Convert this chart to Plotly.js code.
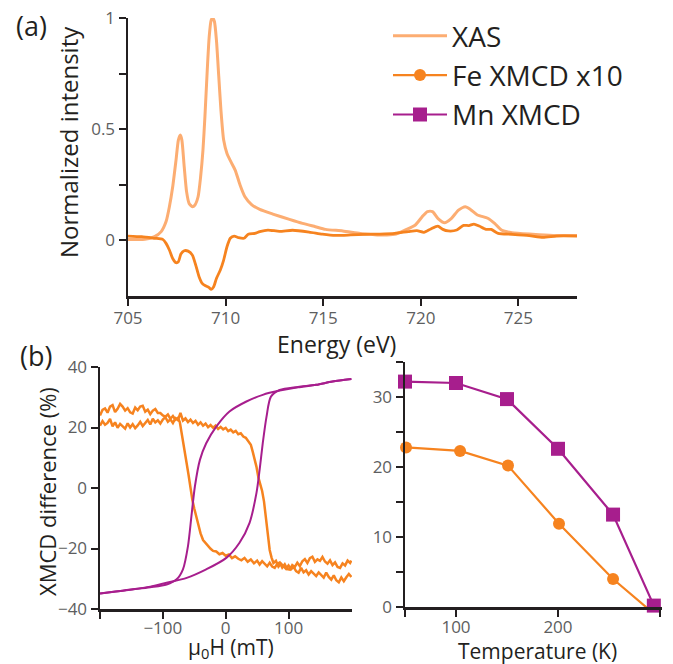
<!DOCTYPE html>
<html>
<head>
<meta charset="utf-8">
<script src="https://cdn.plot.ly/plotly-3.0.1.min.js"></script>
<style>
html,body{margin:0;padding:0;background:#fff;}
#chart{width:673px;height:664px;}
</style>
</head>
<body>
<div id="chart"></div>
<script>
// ---------- (a) spectra ----------
const energyXAS = [705.0,705.86,706.36,706.7,706.95,707.12,707.29,707.46,707.58,707.68,707.76,707.88,708.0,708.13,708.3,708.43,708.59,708.72,708.84,708.94,709.06,709.16,709.26,709.34,709.43,709.53,709.65,709.76,709.9,710.07,710.27,710.49,710.74,710.99,711.33,711.75,712.42,713.27,713.94,714.6,715.12,716.0,716.9,717.77,718.66,719.19,719.72,720.07,720.34,720.6,720.87,721.22,721.57,721.93,722.28,722.54,722.9,723.43,723.78,724.13,724.66,725.72,726.78,728.0];
const xasValues = [0.003,0.003,0.015,0.038,0.083,0.15,0.24,0.36,0.45,0.473,0.45,0.33,0.218,0.165,0.15,0.158,0.195,0.285,0.405,0.556,0.766,0.916,0.99,1.0,0.983,0.9,0.736,0.586,0.45,0.39,0.353,0.315,0.248,0.195,0.16,0.138,0.117,0.093,0.075,0.06,0.048,0.041,0.03,0.023,0.026,0.045,0.068,0.105,0.128,0.128,0.098,0.078,0.098,0.135,0.15,0.138,0.113,0.098,0.075,0.045,0.033,0.026,0.021,0.02];

const energyXMCD = [705.0,705.7,706.36,706.78,706.95,707.12,707.29,707.46,707.58,707.71,707.88,708.08,708.3,708.47,708.64,708.8,708.97,709.14,709.26,709.39,709.53,709.73,709.9,710.07,710.24,710.44,710.66,710.94,711.16,711.5,711.75,712.17,712.76,713.43,714.28,714.95,715.62,716.4,717.2,717.9,718.66,719.36,719.8,720.16,720.51,720.87,721.13,721.4,721.84,722.19,722.46,722.72,722.99,723.34,723.6,723.96,724.66,725.55,726.25,726.96,728.0];
const xmcdValues = [0.018,0.015,0.008,0.003,-0.015,-0.045,-0.083,-0.102,-0.098,-0.063,-0.048,-0.05,-0.068,-0.113,-0.165,-0.195,-0.206,-0.213,-0.222,-0.21,-0.173,-0.135,-0.09,-0.03,0.008,0.018,0.011,0.008,0.026,0.03,0.038,0.045,0.039,0.044,0.036,0.027,0.021,0.023,0.026,0.027,0.03,0.038,0.042,0.035,0.05,0.063,0.048,0.041,0.045,0.066,0.065,0.072,0.063,0.048,0.048,0.03,0.026,0.02,0.012,0.018,0.018];

// ---------- (b) hysteresis loops ----------
const fieldMnDown = [200,170,144,115,86,59,33,6,-15,-31,-41,-49,-54.5,-60,-68,-78,-94,-120,-147,-175,-200];
const mnDown = [36.0,35.2,34.1,33.3,32.2,30.8,28.6,25.3,20.3,14.8,9.3,0.5,-9.3,-19.2,-26.9,-30.2,-31.9,-32.8,-33.5,-34.2,-34.9];
const fieldMnUp = [-200,-175,-147,-120,-94,-62,-31,1,22,38,49,54,59,65,72,86,115,144,170,200];
const mnUp = [-34.9,-34.2,-33.5,-32.6,-31.3,-29.7,-26.9,-23.1,-18.1,-11.5,-1.6,6.0,14.8,23.6,30.2,32.4,33.4,34.1,35.2,36.0];

const fieldFeA = [-200,-196,-192,-188,-184,-180,-176,-172,-168,-164,-160,-156,-152,-148,-144,-140,-136,-132,-128,-124,-120,-116,-112,-108,-104,-100,-96,-92,-88,-84,-80,-76,
  -73,-71,-69,-67,-65,
  -62,-59,-56,-53,-50,-47,-44,
  -40,-36,-32,-28,-24,-20,
  -15,-10,-5,0,5,10,15,20,25,30,35,40,45,50,
  54,58,62,66,70,74,78,82,86,90,94,98,102,106,110,114,118,122,126,130,134,138,142,146,150,154,158,162,166,170,174,178,182,186,190,194,198,
  200];
const feA = [24.0,25.8,26.3,24.9,26.9,27.4,25.1,26.2,27.8,26.9,25.6,26.4,25.0,24.6,26.6,25.7,26.9,27.2,25.2,25.9,24.4,25.6,26.1,24.8,24.8,24.0,23.6,24.3,22.9,23.8,22.6,23.2,
  21.8,19.5,16.5,14.6,12.0,
  8.0,4.2,-0.8,-4.0,-6.8,-9.2,-12.3,
  -15.0,-17.2,-18.3,-19.4,-20.1,-20.8,
  -21.0,-21.9,-21.5,-22.4,-22.0,-23.2,-22.6,-23.4,-23.9,-23.1,-24.4,-23.6,-24.9,-24.0,
  -25.3,-24.2,-24.9,-25.9,-24.7,-26.0,-26.4,-25.1,-24.6,-26.3,-25.2,-26.8,-27.0,-25.5,-26.1,-24.7,-25.8,-24.2,-23.5,-24.8,-23.2,-22.7,-24.4,-23.6,-24.1,-22.8,-24.3,-25.0,-23.9,-25.5,-24.6,-26.1,-26.4,-24.9,-25.6,-24.0,-24.8,
  -24.0];
const fieldFeB = [-200,-196,-192,-188,-184,-180,-176,-172,-168,-164,-160,-156,-152,-148,-144,-140,-136,-132,-128,-124,-120,-116,-112,-108,-104,-100,-96,-92,-88,-84,-80,-76,-72,-68,-64,-60,-56,-52,-48,-44,-40,-36,-32,-28,-24,-20,-16,-12,-8,-4,
  0,4,8,12,16,20,24,28,32,36,40,
  43,46,49,52,55,58,61,64,67,70,73,76,
  80,84,88,92,96,100,104,108,112,116,120,124,128,132,136,140,144,148,152,156,160,164,168,172,176,180,184,188,192,196,200];
const feB = [20.6,22.1,20.9,21.5,22.8,20.4,21.7,19.9,21.2,20.3,19.6,21.4,20.0,21.1,19.8,20.7,21.9,20.5,21.6,22.5,21.0,22.9,21.7,22.4,21.3,22.6,23.4,21.9,22.7,21.5,23.1,22.4,24.8,22.3,23.0,21.8,22.6,21.5,22.2,20.9,21.7,20.6,21.3,20.1,20.8,19.9,20.6,19.5,20.2,19.4,
  19.9,18.8,19.3,18.4,18.9,17.8,18.1,17.0,16.6,15.4,14.3,
  12.0,9.8,7.0,3.5,1.2,-1.0,-4.5,-9.5,-15.9,-20.5,-23.0,-24.8,
  -24.1,-26.0,-25.0,-25.7,-26.7,-25.6,-26.9,-26.1,-27.5,-28.0,-26.4,-27.9,-27.2,-28.6,-27.5,-28.3,-29.1,-27.9,-28.8,-29.6,-28.0,-29.4,-30.3,-28.9,-30.5,-31.2,-29.6,-30.8,-29.5,-28.4,-29.4];

// ---------- (b) temperature dependence ----------
const tempMn = [50,100,150,200,254,294];
const mnVsT = [32.2,32.0,29.7,22.6,13.2,0.2];
const tempFe = [51,104,151,201,254,296];
const feVsT = [22.8,22.3,20.2,11.9,4.0,-1.2];

// tick values (labelled) and unlabelled tick marks
const tickA_y = [0,0.5,1], tickA_yMinor = [0.25,0.75];
const tickA_x = [705,710,715,720,725];
const tickL_x = [-100,0,100], tickL_xMinor = [-200];
const tickL_y = [-40,-20,0,20,40];
const tickR_x = [100,200,300], tickR_xMinor = [50];
const tickR_y = [0,10,20,30], tickR_yMinor = [5,15,25,35];

const cXAS = '#FCAD72', cFe = '#F6831F', cMn = '#A71E8D';
const W = 673, H = 664;
const px = v => v / W, py = v => 1 - v / H;

const traces = [
  {x: energyXAS, y: xasValues, type:'scatter', mode:'lines', name:'XAS',
   line:{color:cXAS, width:3, shape:'spline', smoothing:0.6}, xaxis:'x', yaxis:'y'},
  {x: energyXMCD, y: xmcdValues, type:'scatter', mode:'lines', showlegend:false,
   line:{color:cFe, width:2.8, shape:'spline', smoothing:0.6}, xaxis:'x', yaxis:'y'},
  {x: tempFe, y: feVsT, type:'scatter', mode:'lines+markers', name:'Fe XMCD x10',
   line:{color:cFe, width:2.2}, marker:{symbol:'circle', size:12, color:cFe}, cliponaxis:false, xaxis:'x3', yaxis:'y3'},
  {x: tempMn, y: mnVsT, type:'scatter', mode:'lines+markers', name:'Mn XMCD',
   line:{color:cMn, width:2.2}, marker:{symbol:'square', size:14, color:cMn}, cliponaxis:false, xaxis:'x3', yaxis:'y3'},
  {x: fieldFeA, y: feA, type:'scatter', mode:'lines', showlegend:false,
   line:{color:cFe, width:2.5}, xaxis:'x2', yaxis:'y2'},
  {x: fieldFeB, y: feB, type:'scatter', mode:'lines', showlegend:false,
   line:{color:cFe, width:2.5}, xaxis:'x2', yaxis:'y2'},
  {x: fieldMnDown, y: mnDown, type:'scatter', mode:'lines', showlegend:false,
   line:{color:cMn, width:2, shape:'spline', smoothing:0.8}, xaxis:'x2', yaxis:'y2'},
  {x: fieldMnUp, y: mnUp, type:'scatter', mode:'lines', showlegend:false,
   line:{color:cMn, width:2, shape:'spline', smoothing:0.8}, xaxis:'x2', yaxis:'y2'}
];

const tickFont = {family:'Open Sans, sans-serif', size:17, color:'#5d5e60'};
const axBase = {showline:true, linecolor:'#231f20', linewidth:2.5, ticks:'outside', ticklen:7,
  tickwidth:2, tickcolor:'#231f20', showgrid:false, zeroline:false, tickfont:tickFont, fixedrange:true,
  tickmode:'array'};
function minor(vals){
  return {tickmode:'array', tickvals:vals, ticks:'outside', ticklen:7, tickwidth:2, tickcolor:'#231f20', showgrid:false};
}

const titleFont = {family:'Open Sans, sans-serif', size:23, color:'#231f20'};
function ann(text, x, y, angle, size){
  return {text:text, xref:'paper', yref:'paper', x:px(x), y:py(y), xanchor:'center', yanchor:'middle',
    showarrow:false, textangle:angle||0, font:Object.assign({}, titleFont, size?{size:size}:{})};
}

const layout = {
  width:W, height:H, margin:{l:0,r:0,t:0,b:0}, paper_bgcolor:'#fff', plot_bgcolor:'rgba(0,0,0,0)',
  showlegend:true,
  legend:{x:px(388), y:py(11), xanchor:'left', yanchor:'top', bgcolor:'rgba(0,0,0,0)',
    font:{family:'Open Sans, sans-serif', size:28, color:'#231f20'}, itemwidth:54, tracegroupgap:0},
  xaxis:Object.assign({}, axBase, {domain:[px(128), px(577)], range:[705,728], tickvals:tickA_x, anchor:'y', ticklabelstandoff:-2}),
  yaxis:Object.assign({}, axBase, {domain:[py(296), py(18)], range:[-0.252,1.0], tickvals:tickA_y, minor:minor(tickA_yMinor), anchor:'x'}),
  xaxis2:Object.assign({}, axBase, {domain:[px(100), px(352)], range:[-200,201], tickvals:tickL_x, minor:minor(tickL_xMinor), anchor:'y2', ticklabelstandoff:-5}),
  yaxis2:Object.assign({}, axBase, {domain:[py(609), py(367)], range:[-40,40], tickvals:tickL_y, anchor:'x2'}),
  xaxis3:Object.assign({}, axBase, {domain:[px(405), px(662)], range:[50,302], tickvals:tickR_x, minor:minor(tickR_xMinor), anchor:'y3', ticklabelstandoff:-4}),
  yaxis3:Object.assign({}, axBase, {domain:[py(607), py(362)], range:[0,35], tickvals:tickR_y, minor:minor(tickR_yMinor), anchor:'x3'}),
  annotations:[
    ann('(a)', 31, 25, 0, 27),
    ann('(b)', 36, 355, 0, 27),
    ann('Normalized intensity', 68, 142, -90, 24),
    ann('Energy (eV)', 336, 344, 0, 23),
    ann('XMCD difference (%)', 47, 492, -90, 22),
    ann('μ<sub>0</sub>H (mT)', 231, 648, 0, 21),
    ann('Temperature (K)', 537, 651, 0, 21)
  ]
};

Plotly.newPlot('chart', traces, layout, {displayModeBar:false, staticPlot:true});
</script>
</body>
</html>
